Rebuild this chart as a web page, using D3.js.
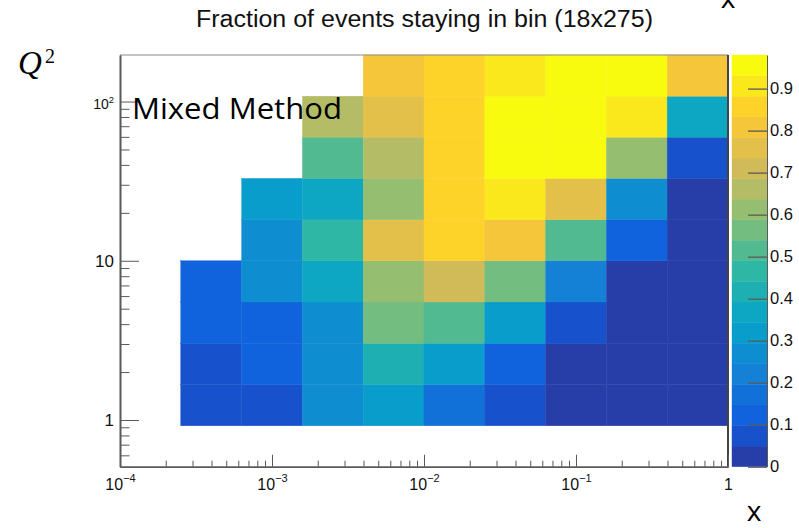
<!DOCTYPE html>
<html>
<head>
<meta charset="utf-8">
<title>Fraction of events staying in bin</title>
<script src="https://cdn.jsdelivr.net/npm/d3@7"></script>
<style>
  body { margin: 0; background: #fff; }
  svg { display: block; }
  .axis path, .axis line { stroke: #5a5a5a; }
  .axis text { font-family: "Liberation Sans", Arial, sans-serif; fill: #111; }
</style>
</head>
<body>
<script>
// ---- data ----
// x bin edges and Q^2 bin edges (log spaced)
var xEdges  = [2.51e-4, 6.31e-4, 1.585e-3, 3.98e-3, 0.01, 0.0251, 0.0631, 0.1585, 0.398, 1];
var q2Edges = [0.92, 1.67, 3.03, 5.51, 10, 18.1, 32.9, 59.7, 108, 196];

// fraction of events staying in bin, one row per Q^2 bin (lowest first), null = empty
var row1 = [0.07, 0.07, 0.27, 0.32, 0.17, 0.07, 0.02, 0.02, 0.02];
var row2 = [0.07, 0.12, 0.27, 0.42, 0.32, 0.12, 0.02, 0.02, 0.02];
var row3 = [0.12, 0.12, 0.27, 0.56, 0.51, 0.32, 0.07, 0.02, 0.02];
var row4 = [0.12, 0.27, 0.37, 0.61, 0.71, 0.56, 0.22, 0.02, 0.02];
var row5 = [null, 0.27, 0.47, 0.76, 0.86, 0.81, 0.51, 0.12, 0.02];
var row6 = [null, 0.32, 0.37, 0.61, 0.86, 0.91, 0.76, 0.27, 0.02];
var row7 = [null, null, 0.51, 0.66, 0.86, 0.96, 0.96, 0.61, 0.07];
var row8 = [null, null, 0.66, 0.76, 0.86, 0.96, 0.96, 0.91, 0.37];
var row9 = [null, null, null, 0.81, 0.86, 0.91, 0.96, 0.96, 0.81];
var fraction = [row1, row2, row3, row4, row5, row6, row7, row8, row9];

var zMax = 0.98;
var nLevels = 20;
var zTicks = [0, 0.1, 0.2, 0.3, 0.4, 0.5, 0.6, 0.7, 0.8, 0.9];
var xMajor = [1e-4, 1e-3, 1e-2, 1e-1, 1];
var xLabelExp = ["\u22124", "\u22123", "\u22122", "\u22121", null];
var yMajor = [1, 10, 100];

// ROOT "bird" palette stops
var birdStops = [0.0, 0.125, 0.25, 0.375, 0.5, 0.625, 0.75, 0.875, 1.0];
var birdR = [0.2082, 0.0592, 0.0780, 0.0232, 0.1802, 0.5301, 0.8186, 0.9956, 0.9764];
var birdG = [0.1664, 0.3599, 0.5041, 0.6419, 0.7178, 0.7492, 0.7328, 0.7862, 0.9832];
var birdB = [0.5293, 0.8684, 0.8385, 0.7914, 0.6425, 0.4662, 0.3499, 0.1968, 0.0539];

// ---- layout ----
var W = 799, H = 528;
var plot = {left: 120, right: 728, top: 55, bottom: 466.7};
var bar = {left: 732, right: 767};

var svg = d3.select("body").append("svg").attr("width", W).attr("height", H);

var x = d3.scaleLog().domain([1e-4, 1]).range([plot.left, plot.right]);
var y = d3.scaleLog().domain([0.509, 196]).range([plot.bottom, plot.top]);
var zy = d3.scaleLinear().domain([0, zMax]).range([plot.bottom, plot.top]);

var birdR_i = d3.scaleLinear().domain(birdStops).range(birdR);
var birdG_i = d3.scaleLinear().domain(birdStops).range(birdG);
var birdB_i = d3.scaleLinear().domain(birdStops).range(birdB);
function bird(t) {
  return d3.rgb(birdR_i(t) * 255, birdG_i(t) * 255, birdB_i(t) * 255).formatHex();
}
// colour of contour level i, as THistPainter picks it from 255 palette entries
var levelColors = d3.range(nLevels).map(function(i) {
  return bird(Math.floor((i + 0.99) * 255 / nLevels) / 254);
});
var z = d3.scaleQuantize().domain([0, zMax]).range(levelColors);

// cells
var cells = [];
fraction.forEach(function(row, r) {
  row.forEach(function(v, c) {
    if (v !== null) cells.push({r: r, c: c, v: v});
  });
});

svg.append("g").selectAll("rect")
  .data(cells)
  .enter().append("rect")
    .attr("x", function(d) { return x(xEdges[d.c]); })
    .attr("y", function(d) { return y(q2Edges[d.r + 1]); })
    .attr("width", function(d) { return x(xEdges[d.c + 1]) - x(xEdges[d.c]); })
    .attr("height", function(d) { return y(q2Edges[d.r]) - y(q2Edges[d.r + 1]); })
    .attr("fill", function(d) { return z(d.v); })
    .attr("stroke", function(d) { return z(d.v); })
    .attr("stroke-width", 0.4);

// frame
svg.append("line").attr("x1", plot.left).attr("x2", plot.right).attr("y1", plot.top).attr("y2", plot.top)
  .attr("stroke", "#8a8a8a").attr("stroke-width", 1);
svg.append("line").attr("x1", plot.right).attr("x2", plot.right).attr("y1", plot.top).attr("y2", plot.bottom)
  .attr("stroke", "#444").attr("stroke-width", 2);

// minor ticks
function minors(lo, hi) {
  var out = [];
  for (var e = -5; e <= 3; e++) {
    for (var m = 2; m <= 9; m++) {
      var v = m * Math.pow(10, e);
      if (v > lo && v < hi) out.push(v);
    }
  }
  return out;
}

var gx = svg.append("g").attr("class", "axis").attr("transform", "translate(0," + plot.bottom + ")");
gx.call(d3.axisBottom(x).tickValues(minors(1e-4, 1)).tickSize(-6).tickSizeOuter(0).tickFormat(""));
gx.append("g").call(d3.axisBottom(x).tickValues(xMajor).tickSize(-12).tickSizeOuter(0).tickPadding(12).tickFormat(""))
  .selectAll(".tick text")
  .attr("font-size", 16)
  .each(function(d, i) {
    var t = d3.select(this);
    t.append("tspan").text(xLabelExp[i] === null ? "1" : "10");
    if (xLabelExp[i] !== null) {
      t.append("tspan").attr("font-size", 11).attr("dy", "-0.75em").text(xLabelExp[i]);
    }
  });
gx.selectAll("path").attr("stroke-width", 1.6);

var gy = svg.append("g").attr("class", "axis").attr("transform", "translate(" + plot.left + ",0)");
gy.call(d3.axisLeft(y).tickValues(minors(0.509, 196)).tickSize(-9.5).tickSizeOuter(0).tickFormat(""));
gy.append("g").call(d3.axisLeft(y).tickValues(yMajor).tickSize(-19).tickSizeOuter(0).tickPadding(6).tickFormat(""))
  .selectAll(".tick text")
  .each(function(d) {
    var t = d3.select(this);
    if (d === 100) {
      t.attr("font-size", 14).attr("dy", "0.5em");
      t.append("tspan").text("10");
      t.append("tspan").attr("font-size", 9.5).attr("dy", "-0.65em").text("2");
    } else {
      t.attr("font-size", 17);
      t.append("tspan").text(d);
    }
  });
gy.selectAll("path").attr("stroke-width", 1.6);

// colour bar
svg.append("g").selectAll("rect")
  .data(levelColors)
  .enter().append("rect")
    .attr("x", bar.left)
    .attr("width", bar.right - bar.left)
    .attr("y", function(d, i) { return zy((i + 1) * zMax / nLevels); })
    .attr("height", function(d, i) { return zy(i * zMax / nLevels) - zy((i + 1) * zMax / nLevels); })
    .attr("fill", function(d) { return d; })
    .attr("stroke", function(d) { return d; })
    .attr("stroke-width", 0.4);

var gz = svg.append("g").attr("class", "axis").attr("transform", "translate(" + bar.right + ",0)");
gz.call(d3.axisRight(zy).tickValues(zTicks).tickSize(-19).tickSizeOuter(0).tickPadding(3)
  .tickFormat(function(d) { return d === 0 ? "0" : d3.format(".1f")(d); }));
gz.selectAll(".tick text").attr("font-size", 16.5);
gz.selectAll(".tick line").attr("stroke", "#111").attr("stroke-width", 1.3);
gz.select("path").attr("stroke", "#444");

// title and annotations
svg.append("text")
  .attr("x", 196).attr("y", 27)
  .attr("textLength", 457).attr("lengthAdjust", "spacingAndGlyphs")
  .attr("font-family", "'Liberation Sans', Arial, sans-serif")
  .attr("font-size", 23)
  .attr("fill", "#111")
  .text("Fraction of events staying in bin (18x275)");

svg.append("text")
  .attr("x", 132).attr("y", 118.5)
  .attr("textLength", 210).attr("lengthAdjust", "spacingAndGlyphs")
  .attr("font-family", "'Open Sans', sans-serif")
  .attr("font-size", 30)
  .attr("fill", "#000")
  .text("Mixed Method");

var q = svg.append("text")
  .attr("x", 18).attr("y", 74)
  .attr("font-family", "'Liberation Serif', 'DejaVu Serif', serif")
  .attr("fill", "#000");
q.append("tspan").attr("font-size", 33).attr("font-style", "italic").text("Q");
q.append("tspan").attr("x", 45).attr("y", 63).attr("font-size", 20).text("2");

svg.append("text")
  .attr("x", 754).attr("y", 521)
  .attr("text-anchor", "middle")
  .attr("font-family", "'Open Sans', sans-serif")
  .attr("font-size", 28)
  .attr("fill", "#000")
  .text("x");

// large "x" label above the colour bar, cropped by the top edge as in the original
svg.append("text")
  .attr("x", 728).attr("y", 8)
  .attr("text-anchor", "middle")
  .attr("font-family", "'Open Sans', sans-serif")
  .attr("font-size", 28)
  .attr("fill", "#000")
  .text("x");
</script>
</body>
</html>
